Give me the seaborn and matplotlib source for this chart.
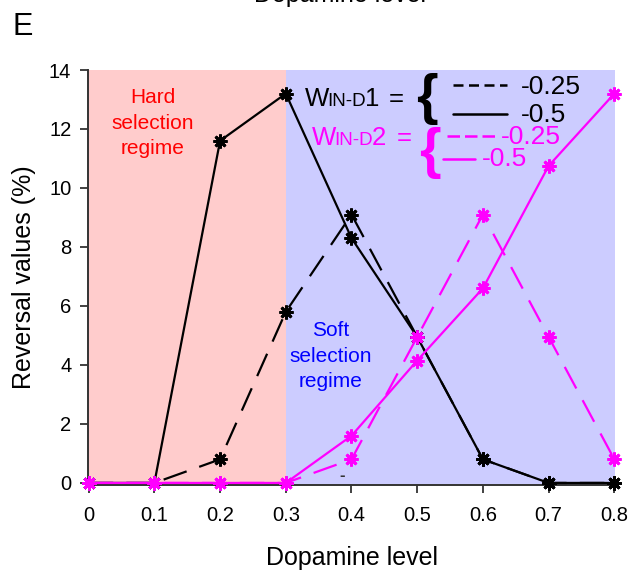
import matplotlib
matplotlib.use("Agg")
import matplotlib.pyplot as plt
import seaborn as sns
import pandas as pd

# Dopamine levels and reversal values (%) for each weight setting
dopamine = [0.0, 0.1, 0.2, 0.3, 0.4, 0.5, 0.6, 0.7, 0.8]
d1_w025 = [0.0, 0.0, 0.8, 5.8, 9.1, 4.95, 0.8, 0.0, 0.0]
d1_w05 = [0.0, 0.0, 11.6, 13.2, 8.3, 4.95, 0.8, 0.0, 0.0]
d2_w025 = [0.0, 0.0, 0.0, 0.0, 0.8, 4.95, 9.1, 4.95, 0.8]
d2_w05 = [0.0, 0.0, 0.0, 0.0, 1.6, 4.15, 6.6, 10.75, 13.2]

x_ticks = [0, 0.1, 0.2, 0.3, 0.4, 0.5, 0.6, 0.7, 0.8]
x_ticklabels = ["0", "0.1", "0.2", "0.3", "0.4", "0.5", "0.6", "0.7", "0.8"]
y_ticks = [0, 2, 4, 6, 8, 10, 12, 14]

sns.set_style("ticks")
plt.rcParams["font.family"] = ["Liberation Sans", "DejaVu Sans"]
plt.rcParams["text.color"] = "black"
plt.rcParams["axes.labelcolor"] = "black"
plt.rcParams["xtick.color"] = "black"
plt.rcParams["ytick.color"] = "black"

W, H = 630, 574
fig = plt.figure(figsize=(W / 100, H / 100), dpi=100)
ax = fig.add_axes([88 / W, 1 - 485 / H, (615 - 88) / W, (485 - 70) / H])


def fx(px):
    return px / W


def fy(py):
    return 1 - py / H


xmin, xmax = -0.001, 0.801
ax.axvspan(xmin, 0.3, color="#FFCCCC", lw=0, zorder=0)
ax.axvspan(0.3, xmax, color="#CCCCFF", lw=0, zorder=0)

PINK = "#FF00FF"
star = (8, 2, 0)
dash = (0, (11, 6))

series = [
    (d1_w025, "black", dash),
    (d1_w05, "black", "-"),
    (d2_w025, PINK, dash),
    (d2_w05, PINK, "-"),
]
for vals, col, ls in series:
    df = pd.DataFrame({"dopamine": dopamine, "reversal": vals})
    sns.lineplot(data=df, x="dopamine", y="reversal", ax=ax, color=col,
                 linestyle=ls, lw=1.6, marker=star, markersize=10,
                 markeredgewidth=2.0, markeredgecolor=col,
                 clip_on=False, zorder=3)

ax.set_xlim(xmin, xmax)
ax.set_ylim(-0.07, 14)
ax.set_xticks(x_ticks)
ax.set_xticklabels(x_ticklabels)
ax.set_yticks(y_ticks)
ax.tick_params(axis="both", labelsize=14.5, length=6, width=1.3,
               color="#333333", labelcolor="black", direction="out")
ax.tick_params(axis="x", pad=9)
ax.tick_params(axis="y", pad=6)
for side in ("top", "right"):
    ax.spines[side].set_visible(False)
for side in ("left", "bottom"):
    ax.spines[side].set_color("#333333")
    ax.spines[side].set_linewidth(1.4)

ax.set_xlabel("Dopamine level", fontsize=18, labelpad=15)
ax.set_ylabel("Reversal values (%)", fontsize=18, labelpad=9)

# Regime annotations
ax.text(0.098, 12.2, "Hard\nselection\nregime", color="#FF0000",
        fontsize=15, ha="center", va="center", linespacing=1.45)
ax.text(0.368, 4.3, "Soft\nselection\nregime", color="#0000FF",
        fontsize=15, ha="center", va="center", linespacing=1.45)
ax.text(0.385, 0.25, "-", color="#333333", fontsize=12, ha="center",
        va="center", fontweight="bold")

# Panel letter and the label of the panel above
fig.text(fx(12), fy(35), "E", fontsize=22, ha="left", va="baseline")
fig.text(fx(340), fy(2), "Dopamine level", fontsize=18, ha="center",
         va="baseline")

# Weight legend: W_IN-D1
base1 = 106
fig.text(fx(305), fy(base1), "W", fontsize=18.5, va="baseline")
fig.text(fx(327), fy(base1), "IN-D", fontsize=13.5, va="baseline")
fig.text(fx(365), fy(base1), "1", fontsize=18.5, va="baseline")
fig.text(fx(389), fy(base1), "=", fontsize=18.5, va="baseline")
fig.text(fx(427), fy(99), "{", fontsize=40, fontweight="bold",
         ha="center", va="center")
fig.add_artist(plt.Line2D([fx(453), fx(507)], [fy(85), fy(85)],
                          color="black", lw=1.8, linestyle=(0, (4, 2.2))))
fig.add_artist(plt.Line2D([fx(453), fx(507)], [fy(114), fy(114)],
                          color="black", lw=1.8))
fig.text(fx(521), fy(94), "-0.25", fontsize=19, va="baseline")
fig.text(fx(521), fy(122), "-0.5", fontsize=19, va="baseline")

# Weight legend: W_IN-D2
base2 = 145
fig.text(fx(312), fy(base2), "W", fontsize=18.5, va="baseline", color=PINK)
fig.text(fx(334), fy(base2), "IN-D", fontsize=13.5, va="baseline", color=PINK)
fig.text(fx(372), fy(base2), "2", fontsize=18.5, va="baseline", color=PINK)
fig.text(fx(397), fy(base2), "=", fontsize=18.5, va="baseline", color=PINK)
fig.text(fx(430), fy(153), "{", fontsize=40, fontweight="bold",
         ha="center", va="center", color=PINK)
fig.add_artist(plt.Line2D([fx(447), fx(498)], [fy(136), fy(136)],
                          color=PINK, lw=1.8, linestyle=(0, (5, 2))))
fig.add_artist(plt.Line2D([fx(443), fx(475)], [fy(159), fy(159)],
                          color=PINK, lw=1.8))
fig.text(fx(501), fy(144), "-0.25", fontsize=19, va="baseline", color=PINK)
fig.text(fx(482), fy(166), "-0.5", fontsize=19, va="baseline", color=PINK)

fig.savefig("out.png", dpi=100)
